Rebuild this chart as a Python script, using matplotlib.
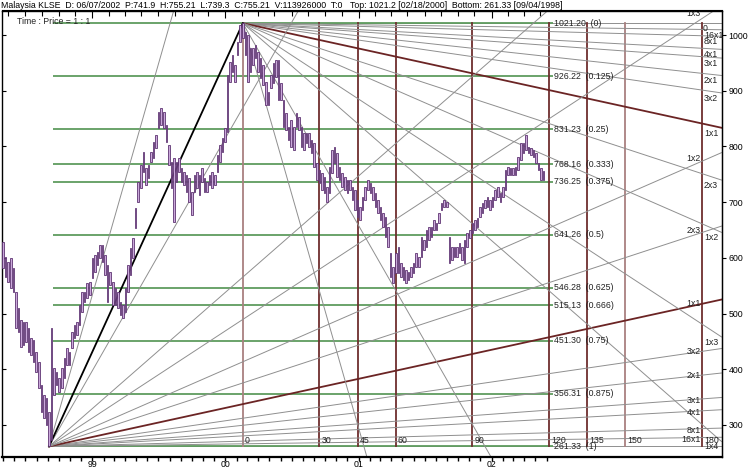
import numpy as np
import pandas as pd
import matplotlib
matplotlib.use("Agg")
import matplotlib.pyplot as plt

plt.rcParams['font.family'] = ['Liberation Sans', 'DejaVu Sans']

# ---------------- data ----------------
low_date = pd.Timestamp("1998-09-04")
top_date = pd.Timestamp("2000-02-18")
top_price = 1021.20
bottom_price = 261.33
first_bar = -18          # weekly bars shown before the low

highs = [628, 601, 592, 600, 582, 539, 510, 488, 485, 485, 474, 456, 452, 431, 413, 372, 354, 348, 323, 474,
         402, 395, 384, 402, 420, 438, 431, 467, 479, 485, 515, 539, 539, 555, 557, 600, 605, 610, 623, 623,
         605, 587, 575, 557, 546, 539, 521, 515, 546, 587, 618, 636,
         689, 736, 767, 790, 761, 767, 790, 808, 821, 862, 869, 862, 838, 803, 772, 779, 772, 779, 761, 754,
         749, 743, 718, 749, 754, 749, 761, 743, 736, 749, 754, 749, 785, 803, 815, 833, 928, 952, 964, 946,
         987, 1018, 1021.20,
         1005, 1000, 977, 977, 982, 969, 959, 946, 916, 898, 928, 950, 955, 955, 914, 883, 860, 835, 847, 835,
         860, 853, 835, 824, 824, 824, 811, 806, 770, 758, 752, 745, 727, 763, 794, 799, 788, 763, 752, 745,
         740, 740, 727, 722, 704, 691, 709, 727, 740, 734, 727, 716, 704, 691, 680, 673, 655, 609, 583, 609,
         619, 591, 583, 578,
         574, 583, 591, 609, 601, 637, 632, 650, 655, 655, 668, 662, 680, 698, 704, 700, 637, 619, 619, 619,
         627, 619, 632, 644, 650, 662, 668, 672, 691, 698, 704, 709, 704, 709, 722, 727, 716, 727, 758, 763,
         761, 761, 763, 781, 806, 806, 821, 799, 797, 794, 788, 770, 761, 755.21]
lows = [582, 566, 557, 546, 539, 474, 467, 440, 443, 449, 431, 425, 413, 395, 366, 323, 312, 300, 261.33, 273,
        354, 372, 359, 366, 384, 408, 408, 438, 456, 461, 479, 503, 521, 528, 533, 564, 575, 587, 600, 592,
        569, 521, 551, 515, 515, 510, 497, 492, 503, 539, 569, 600,
        653, 700, 725, 754, 731, 743, 772, 779, 797, 833, 838, 833, 808, 767, 725, 664, 736, 754, 736, 731,
        718, 700, 677, 718, 725, 713, 736, 718, 718, 731, 725, 731, 754, 772, 790, 808, 826, 916, 934, 916,
        964, 987, 995,
        964, 916, 934, 946, 959, 934, 923, 910, 874, 874, 905, 914, 925, 883, 883, 835, 829, 811, 799, 794,
        835, 829, 799, 794, 806, 799, 788, 763, 740, 734, 722, 716, 700, 716, 752, 770, 745, 740, 727, 722,
        716, 722, 704, 686, 673, 668, 686, 704, 722, 716, 704, 691, 680, 668, 655, 637, 619, 566, 555, 573,
        573, 566, 560, 555,
        560, 565, 573, 583, 583, 601, 614, 619, 632, 637, 650, 650, 662, 686, 691, 691, 591, 596, 601, 601,
        609, 596, 591, 619, 635, 644, 650, 655, 673, 680, 689, 691, 686, 691, 704, 709, 700, 709, 722, 749,
        749, 749, 749, 758, 776, 788, 794, 788, 785, 781, 770, 758, 740, 739.3]

levels = [1021.20, 926.22, 831.23, 768.16, 736.25, 641.26, 546.28, 515.13, 451.30, 356.31, 261.33]
level_ratios = ["0", "0.125", "0.25", "0.333", "0.375", "0.5", "0.625", "0.666", "0.75", "0.875", "1"]
time_counts = [0, 30, 45, 60, 90, 120, 135, 150, 180]
fan_names = ["16x1", "8x1", "4x1", "3x1", "2x1", "3x2", "1x1", "2x3", "1x2", "1x3", "1x4", "1x8", "1x16"]
price_ticks = [300, 400, 500, 600, 700, 800, 900, 1000]
year_labels = ["99", "00", "01", "02"]
year_dates = ["1999-01-01", "2000-01-01", "2001-01-01", "2002-01-01"]
header_left = "Malaysia KLSE  D: 06/07/2002  P:741.9  H:755.21  L:739.3  C:755.21  V:113926000  T:0"
header_right = "Top: 1021.2 [02/18/2000]  Bottom: 261.33 [09/04/1998]"

# ---------------- layout ----------------
W, H = 750, 472
fig = plt.figure(figsize=(7.5, 4.72), dpi=100)
fig.patch.set_facecolor("white")
Lp, Rp, Tp, Bp = 1.5, 721.5, 10.5, 457.0
ax = fig.add_axes([Lp / W, 1 - Bp / H, (Rp - Lp) / W, (Bp - Tp) / H])
px_per_bar = 2.55
x_low_px = 49.0
xmin, xmax = (Lp - x_low_px) / px_per_bar, (Rp - x_low_px) / px_per_bar
ax.set_xlim(xmin, xmax)
ax.set_ylim(242.4, 1044.0)

def wk(d):
    return (pd.Timestamp(d) - low_date).days / 7.0

top_w = wk(top_date)
FS = 6.3

# horizontal retracement levels (green)
green_x0, green_x1 = 1.6, 197.6
for lv, rt in zip(levels, level_ratios):
    ax.plot([green_x0, green_x1], [lv, lv], color="#5f9c5f", lw=1.3, zorder=2, solid_capstyle="butt")
    ax.annotate(f"{lv:.2f}  ({rt})", xy=(green_x1, lv), xytext=(1.5, 0), textcoords="offset pixels",
                ha="left", va="center", fontsize=FS, color="#222222", zorder=6)

# vertical time-count lines
for c in time_counts:
    xv = top_w + c
    col = "#a98080" if c in (0, 150) else "#6e2e2e"
    ax.plot([xv, xv], [bottom_price, top_price], color=col, lw=1.3, zorder=2)
    ax.annotate(str(c), xy=(xv, bottom_price), xytext=(2, 6), textcoords="offset pixels",
                ha="left", va="center", fontsize=FS, color="#222222", zorder=6)

# fans
w180 = top_w + 180
w_lab_low = w180 + 4.5
for nm in fan_names:
    a, b = nm.split("x")
    r = float(b) / float(a)
    is11 = nm == "1x1"
    col = "#6b2424" if is11 else "#8f8f8f"
    lw = 1.3 if is11 else 0.7
    # upper fan (from top, descending)
    ax.plot([top_w, xmax], [top_price, top_price - r * (xmax - top_w)], color=col, lw=lw, zorder=2)
    # lower fan (from bottom, ascending)
    ax.plot([0, xmax], [bottom_price, bottom_price + r * xmax], color=col, lw=lw, zorder=2)
    y_up = top_price - r * (xmax - top_w)
    if y_up > 250:
        ax.annotate(nm, xy=(w180, y_up), xytext=(2, -1), textcoords="offset pixels",
                    ha="left", va="top", fontsize=FS, color="#222222", zorder=6)
    y_lo = bottom_price + r * w_lab_low
    if y_lo < 1060:
        ax.annotate(nm, xy=(w180, y_lo), xytext=(-1, -2), textcoords="offset pixels",
                    ha="right", va="center", fontsize=FS, color="#222222", zorder=6, annotation_clip=False,
                    clip_on=True)
# zero lines of each fan
ax.plot([top_w, xmax], [top_price, top_price], color="#8f8f8f", lw=0.7, zorder=1.9)
ax.plot([0, xmax], [bottom_price, bottom_price], color="#8f8f8f", lw=0.7, zorder=1.9)
ax.annotate("0", xy=(w180, top_price), xytext=(1, -1), textcoords="offset pixels",
            ha="left", va="top", fontsize=FS, color="#222222", zorder=6)

# low-to-top diagonal
ax.plot([0, top_w], [bottom_price, top_price], color="black", lw=1.3, zorder=2.5)

# price bars
bars_x = np.arange(first_bar, first_bar + len(highs))
hi = np.array(highs, dtype=float)
lo = np.array(lows, dtype=float)
ax.bar(bars_x, hi - lo, bottom=lo, width=0.6, color="#caa8da", edgecolor="#5e3372",
       linewidth=0.6, zorder=3)

# ---------------- axes decoration ----------------
for s in ax.spines.values():
    s.set_color("black")
    s.set_linewidth(1.0)
ax.spines["bottom"].set_linewidth(1.6)

year_w = [wk(d) for d in year_dates]
month_w = [wk(d) for d in pd.date_range("1998-05-01", "2002-06-01", freq="MS")]
ax.set_xticks(year_w)
ax.set_xticklabels(year_labels, fontsize=FS)
ax.set_xticks(month_w, minor=True)
ax.tick_params(axis="x", which="major", direction="out", length=3, width=1, pad=-0.5)
ax.tick_params(axis="x", which="minor", direction="out", length=3, width=1)

ax.set_yticks(price_ticks)
ax.tick_params(axis="y", direction="in", length=3, width=0.8, labelleft=False)

secy = ax.secondary_yaxis("right")
secy.set_yticks(price_ticks)
secy.tick_params(direction="out", length=3, width=0.8, labelsize=FS, pad=2)

top_dates = []
for yr in range(1998, 2003):
    for m, d in [(1, 1), (2, 15), (4, 1), (5, 15), (7, 1), (8, 15), (10, 1), (11, 15)]:
        t = pd.Timestamp(yr, m, d)
        if pd.Timestamp("1998-05-01") <= t <= pd.Timestamp("2002-06-07"):
            top_dates.append(wk(t))
secx = ax.secondary_xaxis("top")
secx.set_xticks(year_w)
secx.set_xticklabels([])
secx.set_xticks(top_dates, minor=True)
secx.tick_params(which="major", direction="in", length=6, width=0.8)
secx.tick_params(which="minor", direction="in", length=4, width=0.8)

ax.text(0.022, 0.985, "Time : Price = 1 : 1", transform=ax.transAxes, fontsize=FS,
        ha="left", va="top", color="#222222", zorder=6)
fig.text(1 / W, 1 - 5 / H, header_left, fontsize=FS, ha="left", va="center")
fig.text(350 / W, 1 - 5 / H, header_right, fontsize=FS, ha="left", va="center")

fig.savefig("out.png", dpi=100, facecolor="white")
